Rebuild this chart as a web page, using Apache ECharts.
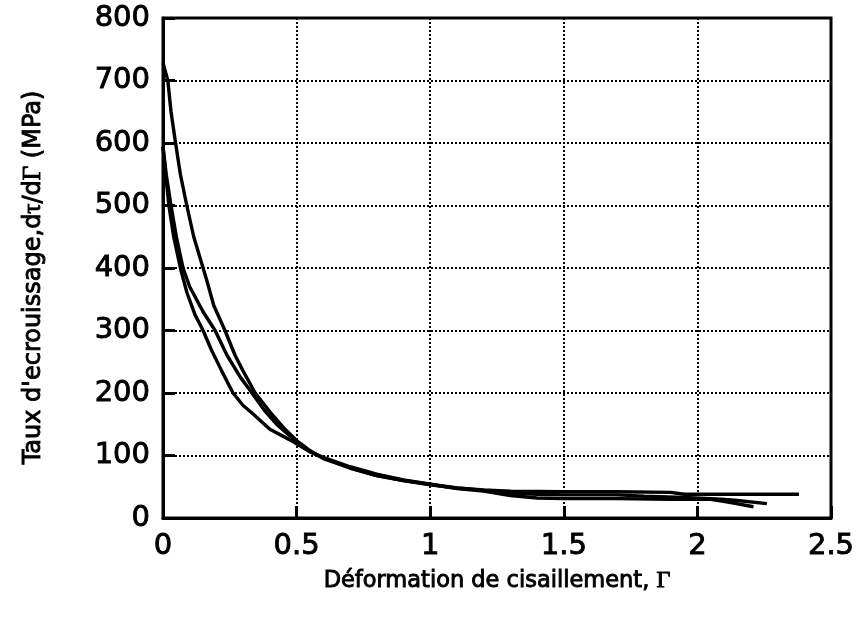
<!DOCTYPE html>
<html>
<head>
<meta charset="utf-8">
<script src="https://cdn.jsdelivr.net/npm/echarts@6/dist/echarts.min.js"></script>
<style>html,body{margin:0;padding:0;background:#fff}#c{width:859px;height:617px}</style>
</head>
<body>
<div id="c"></div>
<script>
var curveA = [[0,728],[0.018,700],[0.03,650],[0.047,600],[0.065,550],[0.089,500],[0.115,450],[0.15,400],[0.164,380],[0.19,340],[0.232,300],[0.27,260],[0.30,235],[0.345,200],[0.40,170],[0.45,145],[0.5,124],[0.55,108],[0.6,95],[0.7,80],[0.8,68],[0.9,60],[1.0,54],[1.1,48],[1.2,45],[1.3,43],[1.5,42],[1.7,42],[1.9,41],[1.95,38],[2.2,38],[2.38,38]];
var curveB = [[0,594],[0.012,550],[0.03,500],[0.05,450],[0.075,400],[0.1,370],[0.15,330],[0.195,300],[0.24,260],[0.29,225],[0.333,200],[0.38,172],[0.43,148],[0.5,122],[0.55,106],[0.6,96],[0.7,80],[0.8,68],[0.9,60],[1.0,53],[1.1,48],[1.2,44],[1.3,40],[1.4,38],[1.5,37],[1.7,37],[1.8,35],[1.95,33],[2.09,30],[2.15,28],[2.26,23]];
var curveC = [[0,594],[0.01,550],[0.022,500],[0.04,450],[0.065,400],[0.09,360],[0.12,325],[0.15,300],[0.18,270],[0.22,235],[0.262,200],[0.3,180],[0.333,168],[0.4,142],[0.475,125],[0.55,106],[0.6,97],[0.7,82],[0.8,70],[0.9,61],[1.0,54],[1.1,47],[1.2,43],[1.3,36],[1.4,32],[1.5,31],[1.7,31],[1.9,30],[2.05,30],[2.12,25],[2.21,18]];
var xTicks = {min:0, max:2.5, interval:0.5};
var yTicks = {min:0, max:800, interval:100};
var xName = 'Déformation de cisaillement, {g|Γ}';
var yName = "Taux d'ecrouissage,d{g|τ}/d{g|Γ} (MPa)";

var chart = echarts.init(document.getElementById('c'), null, {renderer:'canvas'});
var font = 'DejaVu Sans, Verdana, sans-serif';
var serif = 'Liberation Serif, Times New Roman, serif';
function mk(d){return {type:'line', data:d, showSymbol:false, symbol:'none', smooth:false,
  lineStyle:{color:'#000', width:3.4}, itemStyle:{color:'#000'}, animation:false};}
var gridLine = {show:true, lineStyle:{color:'#000', width:2, type:[2,2]}};
var stroke = {textBorderColor:'#000', textBorderWidth:0.9};
chart.setOption({
  animation:false,
  backgroundColor:'#fff',
  grid:{left:163, right:28, top:18, bottom:99, show:true, borderColor:'#000', borderWidth:3, backgroundColor:'transparent'},
  xAxis:{type:'value', min:xTicks.min, max:xTicks.max, interval:xTicks.interval,
    axisLine:{show:true, onZero:false, lineStyle:{color:'#000', width:3}},
    axisTick:{show:true, inside:true, length:12, lineStyle:{color:'#000', width:3}},
    axisLabel:Object.assign({color:'#000', fontSize:29, fontFamily:font, margin:14}, stroke),
    splitLine:gridLine,
    name:xName, nameLocation:'middle', nameGap:51,
    nameTextStyle:Object.assign({color:'#000', fontSize:22.5, fontFamily:font, rich:{g:Object.assign({fontFamily:serif, fontSize:24, color:'#000'}, stroke)}}, stroke)
  },
  yAxis:{type:'value', min:yTicks.min, max:yTicks.max, interval:yTicks.interval,
    axisLine:{show:true, lineStyle:{color:'#000', width:3}},
    axisTick:{show:true, inside:true, length:12, lineStyle:{color:'#000', width:3}},
    axisLabel:Object.assign({color:'#000', fontSize:29, fontFamily:font, margin:13}, stroke),
    splitLine:gridLine,
    name:yName, nameLocation:'middle', nameGap:117,
    nameTextStyle:Object.assign({color:'#000', fontSize:24, fontFamily:font, padding:[0,19,0,0], rich:{g:Object.assign({fontFamily:serif, fontSize:25, color:'#000'}, stroke)}}, stroke)
  },
  series:[mk(curveA), mk(curveB), mk(curveC)]
});
</script>
</body>
</html>
